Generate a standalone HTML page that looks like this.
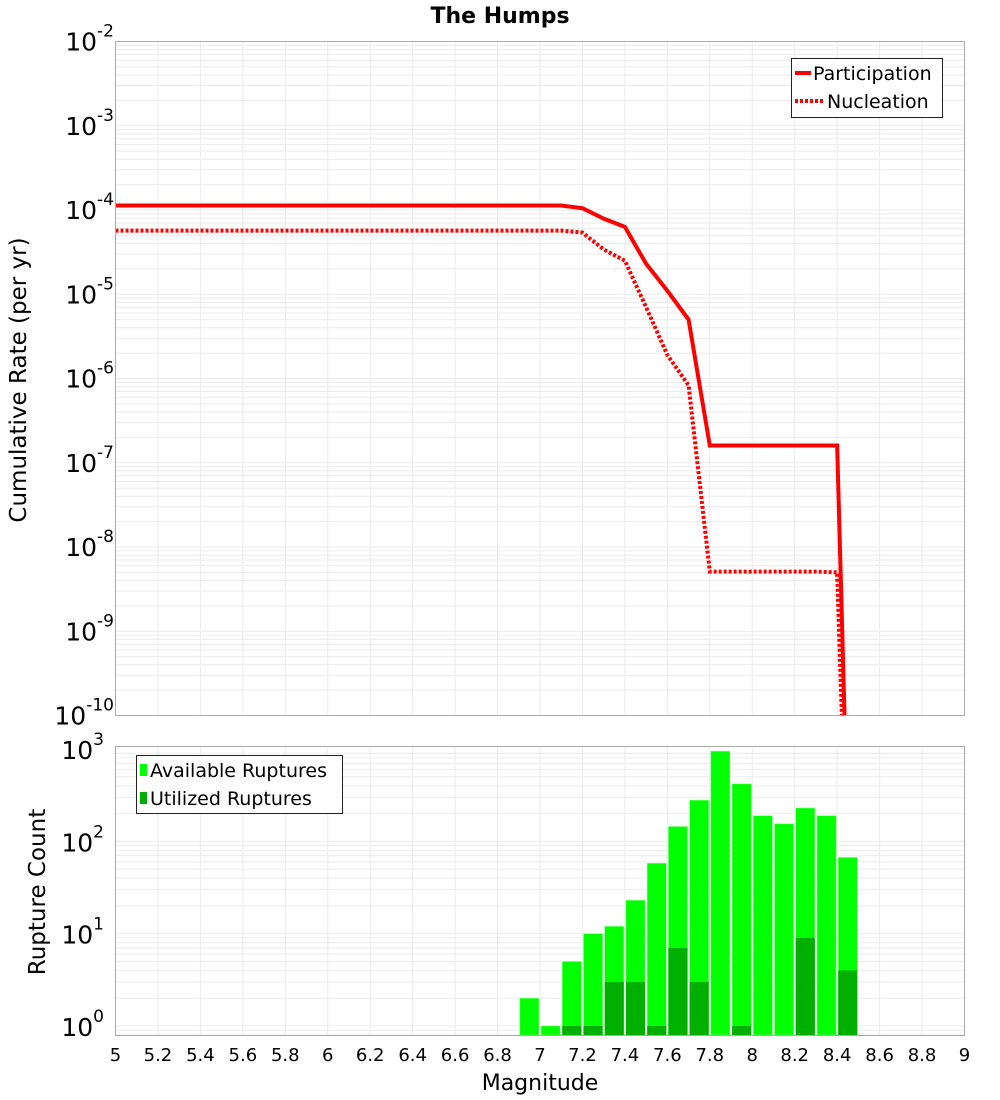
<!DOCTYPE html>
<html><head><meta charset="utf-8"><style>
html,body{margin:0;padding:0;background:#fff;overflow:hidden;width:1000px;height:1100px}
svg{display:block}
svg text{font-family:"DejaVu Sans","Liberation Sans",sans-serif}
</style></head><body>
<svg id="chart" width="1000" height="1100" xmlns="http://www.w3.org/2000/svg">
<text x="500" y="23" text-anchor="middle" font-size="22" font-weight="bold">The Humps</text>
<g id="top-grid"></g>
<g id="bot-grid"></g>
<g id="bars"></g>
<g id="lines"></g>
<rect x="115.5" y="41.5" width="849" height="674" fill="none" stroke="#aaa"/>
<rect x="115.5" y="746.5" width="849" height="289" fill="none" stroke="#aaa"/>
<g id="yticks-top"></g>
<g id="yticks-bot"></g>
<g id="xticks"></g>
<text transform="translate(26,380) rotate(-90)" text-anchor="middle" font-size="23">Cumulative Rate (per yr)</text>
<text transform="translate(45,892) rotate(-90)" text-anchor="middle" font-size="23">Rupture Count</text>
<text x="540" y="1090" text-anchor="middle" font-size="22">Magnitude</text>
<g>
<rect x="791.5" y="58.5" width="151" height="59" fill="#fff" stroke="#222"/>
<line x1="795" y1="73" x2="811" y2="73" stroke="red" stroke-width="4"/>
<text x="813" y="80" font-size="19">Participation</text>
<line x1="795" y1="101" x2="824" y2="101" stroke="red" stroke-width="4" stroke-dasharray="3,2"/>
<text x="827" y="108" font-size="19">Nucleation</text>
</g>
<g>
<rect x="136.5" y="755.5" width="206" height="58" fill="#fff" stroke="#222"/>
<rect x="140" y="764" width="7" height="12" fill="#00ff00"/>
<text x="150" y="777" font-size="19">Available Ruptures</text>
<rect x="140" y="792" width="7" height="12" fill="#00b000"/>
<text x="150" y="805" font-size="19">Utilized Ruptures</text>
</g>
</svg>
<script>
const mags=[5,5.1,5.2,5.3,5.4,5.5,5.6,5.7,5.8,5.9,6,6.1,6.2,6.3,6.4,6.5,6.6,6.7,6.8,6.9,7,7.1,7.2,7.3,7.4,7.5,7.6,7.7,7.8,7.9,8,8.1,8.2,8.3,8.4,8.5];
const participation=[1.13e-4,1.13e-4,1.13e-4,1.13e-4,1.13e-4,1.13e-4,1.13e-4,1.13e-4,1.13e-4,1.13e-4,1.13e-4,1.13e-4,1.13e-4,1.13e-4,1.13e-4,1.13e-4,1.13e-4,1.13e-4,1.13e-4,1.13e-4,1.13e-4,1.13e-4,1.05e-4,7.9e-5,6.3e-5,2.3e-5,1.1e-5,5e-6,1.6e-7,1.6e-7,1.6e-7,1.6e-7,1.6e-7,1.6e-7,1.6e-7,1e-16];
const nucleation=[5.7e-5,5.7e-5,5.7e-5,5.7e-5,5.7e-5,5.7e-5,5.7e-5,5.7e-5,5.7e-5,5.7e-5,5.7e-5,5.7e-5,5.7e-5,5.7e-5,5.7e-5,5.7e-5,5.7e-5,5.7e-5,5.7e-5,5.7e-5,5.7e-5,5.7e-5,5.4e-5,3.4e-5,2.5e-5,7e-6,1.9e-6,8.3e-7,5.1e-9,5.1e-9,5.1e-9,5.1e-9,5.1e-9,5.1e-9,5.0e-9,1e-16];
const binMags=[6.95,7.05,7.15,7.25,7.35,7.45,7.55,7.65,7.75,7.85,7.95,8.05,8.15,8.25,8.35,8.45];
const available=[2,1,5,10,12,23,58,145,280,950,420,190,155,230,190,67];
const utilized=[0,0,1,1,3,3,1,7,3,0,1,0,0,9,0,4];
const xTickLabels=["5","5.2","5.4","5.6","5.8","6","6.2","6.4","6.6","6.8","7","7.2","7.4","7.6","7.8","8","8.2","8.4","8.6","8.8","9"];
const topDecades=[-2,-3,-4,-5,-6,-7,-8,-9,-10];
const botDecades=[3,2,1,0];

const NS="http://www.w3.org/2000/svg";
const X=m=>115.5+(m-5)*212.25;
const YT=v=>41.5+(-2-Math.log10(v))*84.25;
const YB=v=>1026-Math.log10(v)*92.3;
function mk(tag,attrs,parent){const e=document.createElementNS(NS,tag);for(const k in attrs)e.setAttribute(k,attrs[k]);document.getElementById(parent).appendChild(e);return e;}

for(let d=-10;d<-2;d++)for(let k=1;k<10;k++){const y=YT(k*Math.pow(10,d));
 const l=mk('line',{x1:115.5,x2:964.5,y1:y,y2:y,stroke:'#ebebeb','stroke-width':1},'top-grid');
 
 }
for(let d=-1;d<3;d++)for(let k=1;k<10;k++){const y=YB(k*Math.pow(10,d));if(y<746||y>1035)continue;
 const l=mk('line',{x1:115.5,x2:964.5,y1:y,y2:y,stroke:'#ebebeb','stroke-width':1},'bot-grid');
 
 }
xTickLabels.forEach(t=>{const x=X(parseFloat(t));
 const a=mk('line',{x1:x,x2:x,y1:41.5,y2:715.5,stroke:'#ebebeb'},'top-grid');
 
 
 const b=mk('line',{x1:x,x2:x,y1:746.5,y2:1035.5,stroke:'#ebebeb'},'bot-grid');
 
 
 const tx=mk('text',{x:x,y:1061,'text-anchor':'middle','font-size':'18'},'xticks');
 tx.textContent=t;
 
 });

binMags.forEach((m,i)=>{const x0=X(m-0.045),w=X(m+0.045)-x0;
 const y=YB(available[i]);
 const r=mk('rect',{x:x0,y:y,width:w,height:1035-y,fill:'#00ff00',stroke:'#8f8','stroke-width':0.5},'bars');
 
 
 if(utilized[i]>0){const yu=YB(utilized[i]);
  const u=mk('rect',{x:x0,y:yu,width:w,height:1035-yu,fill:'#00b000'},'bars');
  
  }});

const cp=mk('clipPath',{id:'clipTop'},'lines');
const cr=document.createElementNS(NS,'rect');
cr.setAttribute('x',115.5);cr.setAttribute('y',41.5);cr.setAttribute('width',849);cr.setAttribute('height',674);cp.appendChild(cr);
const pp=mk('polyline',{points:mags.map((m,i)=>X(m)+','+YT(participation[i])).join(' '),fill:'none',stroke:'red','stroke-width':4,'clip-path':'url(#clipTop)'},'lines');


const np=mk('polyline',{points:mags.map((m,i)=>X(m)+','+YT(nucleation[i])).join(' '),fill:'none',stroke:'red','stroke-width':4,'stroke-dasharray':'3,2','clip-path':'url(#clipTop)'},'lines');



topDecades.forEach(d=>{const y=YT(Math.pow(10,d));
 const t=mk('text',{x:114,y:y+9,'text-anchor':'end','font-size':'25'},'yticks-top');
 t.innerHTML='10<tspan dy="-14" font-size="17">'+d+'</tspan>';
 
 });
botDecades.forEach(d=>{const y=YB(Math.pow(10,d));
 const t=mk('text',{x:104,y:y+10,'text-anchor':'end','font-size':'25'},'yticks-bot');
 t.innerHTML='10<tspan dy="-14" font-size="17">'+d+'</tspan>';
 
 });
</script>
</body></html>
